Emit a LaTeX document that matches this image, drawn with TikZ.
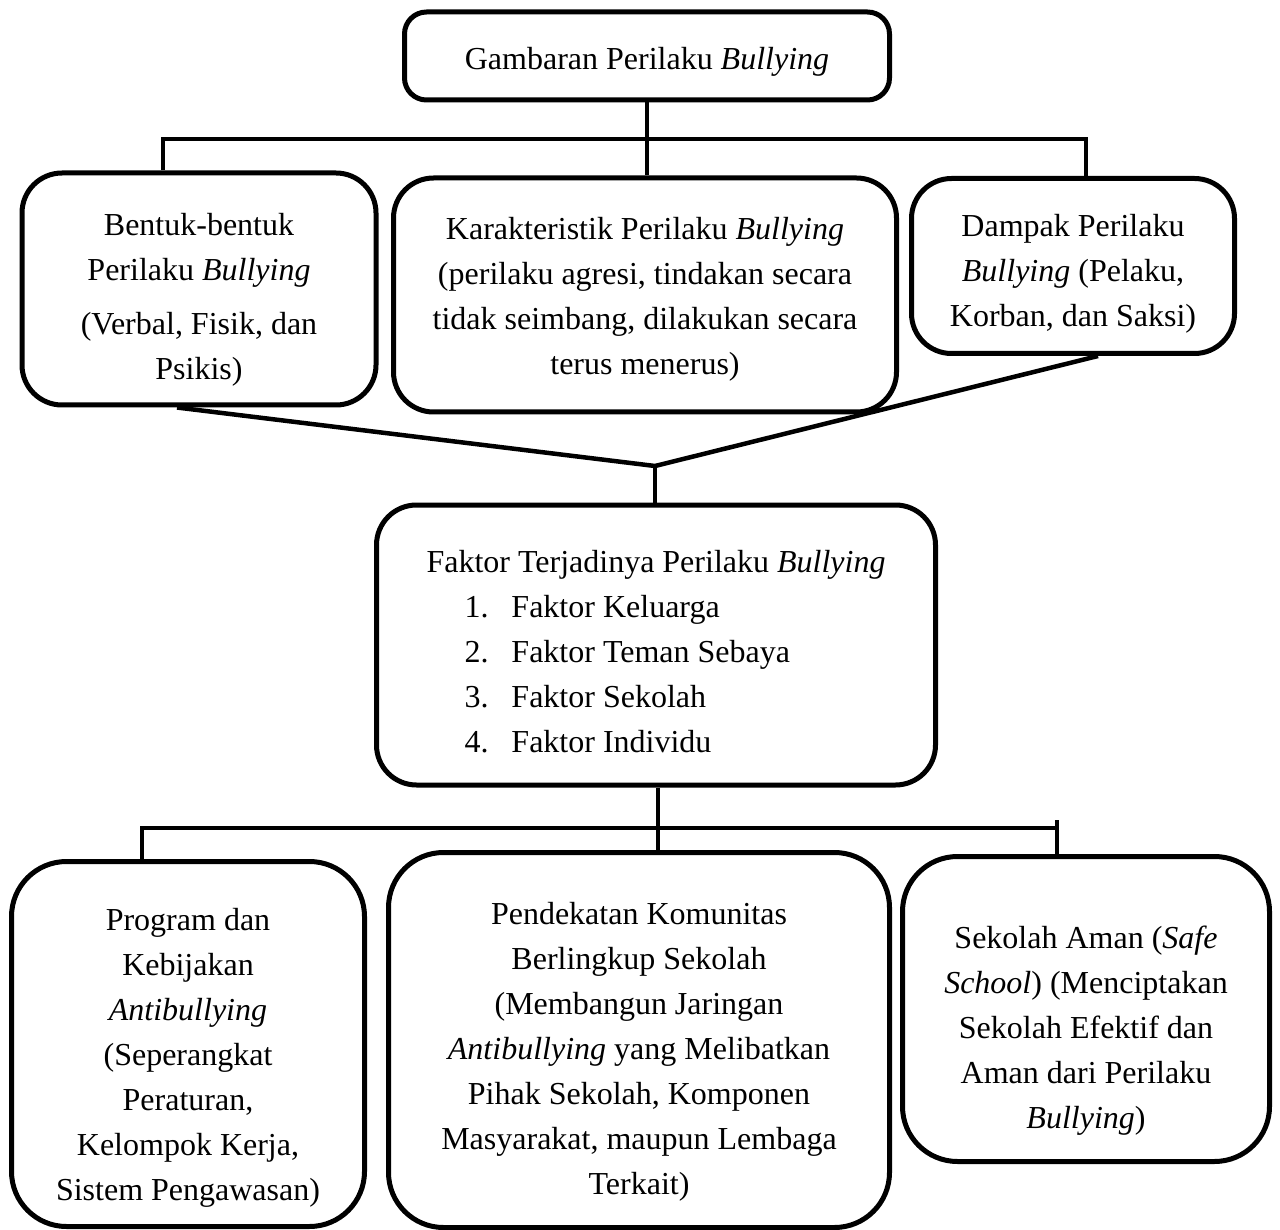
\documentclass[tikz,border=0pt]{standalone}
\usepackage{fontspec}
\setmainfont{Liberation Serif}
\usepackage{tikz}
\usetikzlibrary{positioning}
\newcommand{\boxstrut}[1]{\rule{0pt}{#1pt}}

\begin{document}
\begin{tikzpicture}[x=1pt,y=-1pt,
    font={\fontsize{32}{45}\selectfont},
    box/.style={draw,rectangle,line width=5pt,rounded corners=40pt,
      align=center,inner sep=0pt},
    link/.style={line width=4.5pt}]
      \useasboundingbox (0,0) rectangle (1280,1230);

      \node[box,rounded corners=22pt,minimum width=485,minimum height=88]
      (top) at (647,56) {\boxstrut{34}Gambaran Perilaku \textit{Bullying}};

      \node[box,minimum width=354,minimum height=232] (b1) at (199,289)
      {\boxstrut{44}Bentuk-bentuk\\Perilaku \textit{Bullying}\\[9pt](Verbal, Fisik, dan\\Psikis)};
      \node[box,minimum width=503,minimum height=234] (b2) at (645,295)
      {\boxstrut{30}Karakteristik Perilaku \textit{Bullying}\\(perilaku agresi, tindakan secara\\tidak
        seimbang, dilakukan secara\\terus menerus)};
      \node[box,minimum width=323,minimum height=175] (b3) at (1073,266)
      {\boxstrut{38}Dampak Perilaku\\\textit{Bullying} (Pelaku,\\Korban, dan Saksi)};

      \node[box,minimum width=559,minimum height=280,align=left]
      (f) at (656,645) {\boxstrut{36}Faktor Terjadinya Perilaku \textit{Bullying}\\
        \hspace*{38pt}\makebox[47pt][l]{1.}Faktor Keluarga\\
        \hspace*{38pt}\makebox[47pt][l]{2.}Faktor Teman Sebaya\\
        \hspace*{38pt}\makebox[47pt][l]{3.}Faktor Sekolah\\
        \hspace*{38pt}\makebox[47pt][l]{4.}Faktor Individu};

      \node[box,rounded corners=55pt,minimum width=353,minimum height=365]
      (p1) at (188,1044) {\boxstrut{50}Program dan\\Kebijakan\\\textit{Antibullying}\\(Seperangkat\\Peraturan,\\Kelompok
        Kerja,\\Sistem Pengawasan)};
      \node[box,rounded corners=55pt,minimum width=501,minimum height=375]
      (p2) at (639,1040) {\boxstrut{46}Pendekatan Komunitas\\Berlingkup Sekolah\\(Membangun
        Jaringan\\\textit{Antibullying} yang Melibatkan\\Pihak Sekolah, Komponen\\Masyarakat,
        maupun Lembaga\\Terkait)};
      \node[box,rounded corners=55pt,minimum width=367,minimum height=305]
      (p3) at (1086,1009) {\boxstrut{66}Sekolah Aman (\textit{Safe}\\\textit{School}) (Menciptakan\\Sekolah
        Efektif dan\\Aman dari Perilaku\\\textit{Bullying})};

      \coordinate (bus1) at (647,139);
      \coordinate (join) at (655,466);
      \coordinate (bus2) at (658,828);
      \coordinate (tick) at (1057,820);

      \draw[link] (top.south) -- (top.south |- b2.north);
      \draw[link] ([xshift=-36]b1.north) |- (bus1) -| ([xshift=13]b3.north);
      \draw[link] ([xshift=-22]b1.south) -- (join) -- ([xshift=25]b3.south);
      \draw[link] (join) -- (join |- f.north);
      \draw[link] (f.south -| bus2) -- (bus2 |- p2.north);
      \draw[link] ([xshift=-46]p1.north) |- (bus2) -| (tick |- p3.north);
      \draw[link] (tick) -- (tick |- bus2);
    \end{tikzpicture}
\end{document}
